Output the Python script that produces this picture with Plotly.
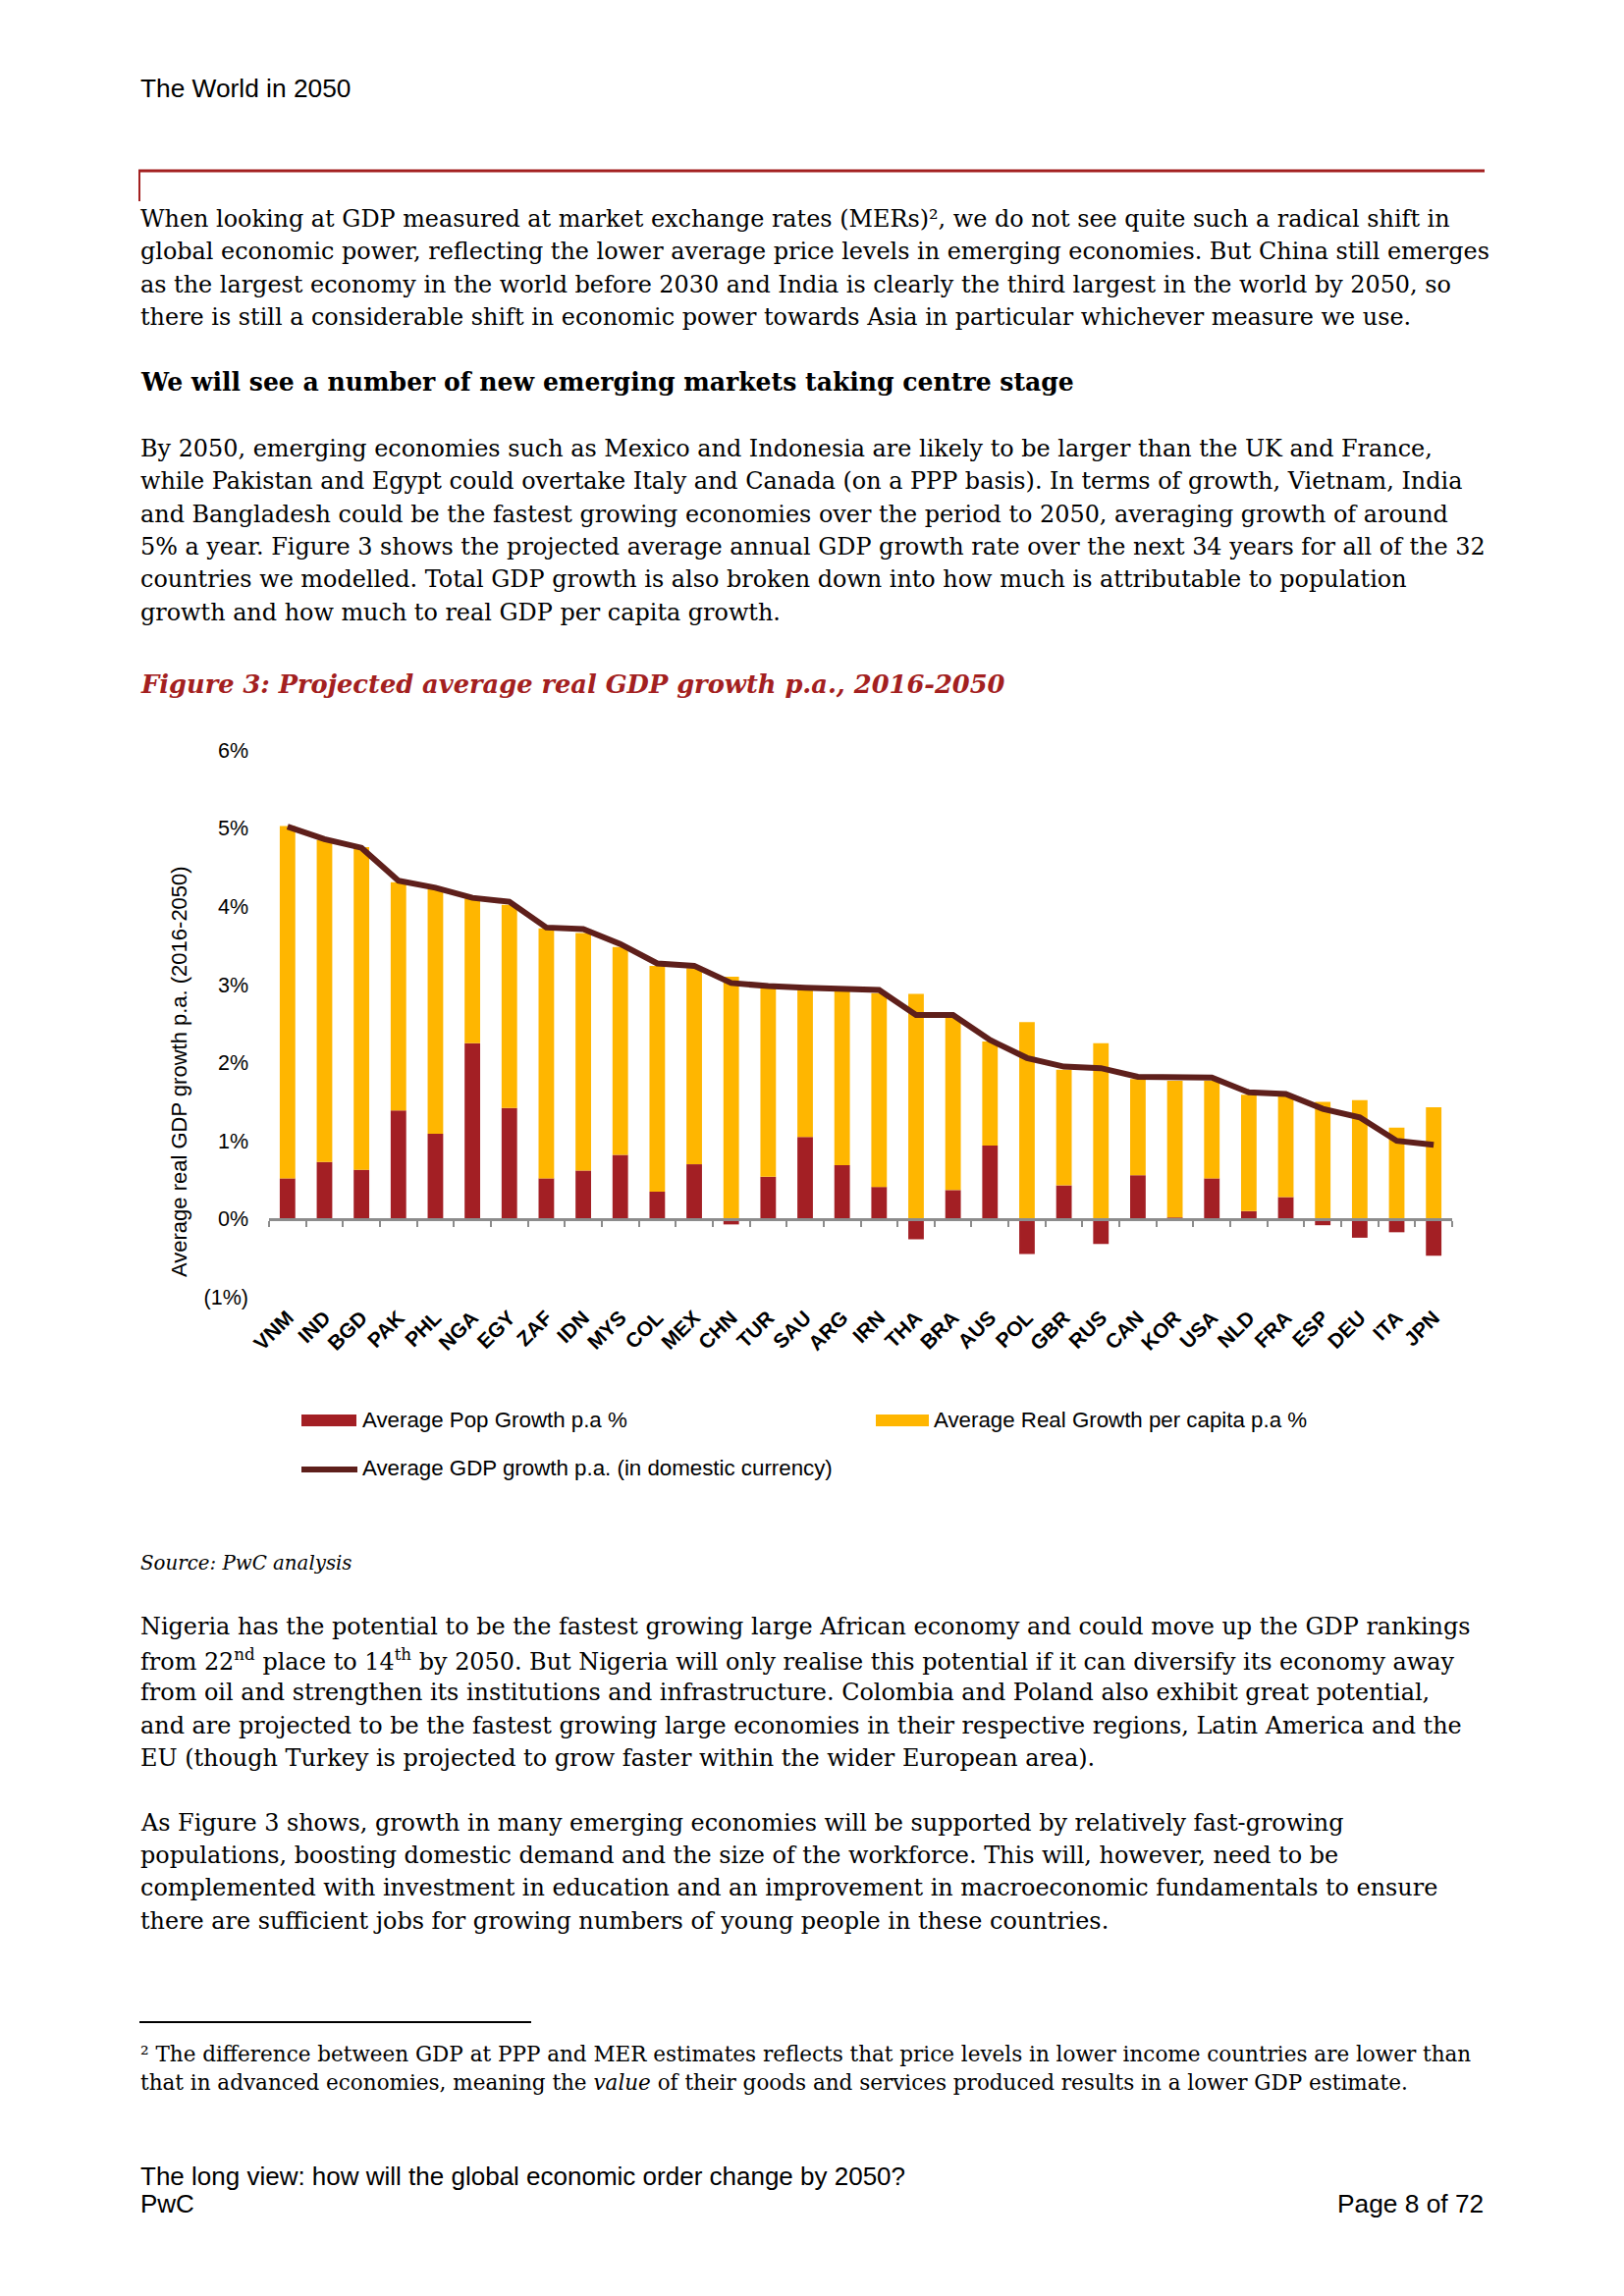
import plotly.graph_objects as go

W, H = 1654, 2339

countries = ["VNM", "IND", "BGD", "PAK", "PHL", "NGA", "EGY", "ZAF", "IDN", "MYS", "COL", "MEX",
             "CHN", "TUR", "SAU", "ARG", "IRN", "THA", "BRA", "AUS", "POL", "GBR", "RUS", "CAN",
             "KOR", "USA", "NLD", "FRA", "ESP", "DEU", "ITA", "JPN"]
pop_growth = [0.52, 0.73, 0.63, 1.39, 1.09, 2.25, 1.42, 0.52, 0.62, 0.82, 0.35, 0.70,
              -0.07, 0.54, 1.05, 0.69, 0.41, -0.26, 0.37, 0.94, -0.45, 0.43, -0.32, 0.56,
              0.02, 0.52, 0.10, 0.28, -0.08, -0.24, -0.17, -0.47]
per_capita_growth = [4.51, 4.12, 4.13, 2.92, 3.13, 1.85, 2.60, 3.20, 3.04, 2.66, 2.89, 2.51,
                     3.10, 2.42, 1.88, 2.23, 2.48, 2.88, 2.21, 1.33, 2.52, 1.48, 2.25, 1.23,
                     1.75, 1.25, 1.49, 1.29, 1.50, 1.52, 1.17, 1.43]
gdp_growth = [5.02, 4.86, 4.75, 4.33, 4.24, 4.11, 4.06, 3.73, 3.71, 3.52, 3.27, 3.24,
              3.02, 2.98, 2.96, 2.95, 2.93, 2.61, 2.61, 2.29, 2.06, 1.95, 1.93, 1.82,
              1.81, 1.81, 1.62, 1.60, 1.41, 1.30, 1.00, 0.95]
y_tick_vals = [-1, 0, 1, 2, 3, 4, 5, 6]
y_tick_text = ["(1%)", "0%", "1%", "2%", "3%", "4%", "5%", "6%"]

RED = "#A31F24"
YELLOW = "#FFB600"
BROWN = "#5E1F1B"
TITLE_RED = "#A32020"
SANS = "Liberation Sans, Arial, sans-serif"
SERIF = "DejaVu Serif, Georgia, serif"


def px(x):
    return x / W


def py(y):
    return 1 - y / H


fig = go.Figure()
fig.add_trace(go.Bar(x=countries, y=pop_growth, name="Average Pop Growth p.a %",
                     marker=dict(color=RED, line=dict(width=0)), width=0.42))
fig.add_trace(go.Bar(x=countries, y=per_capita_growth, name="Average Real Growth per capita p.a %",
                     marker=dict(color=YELLOW, line=dict(width=0)), width=0.42))
fig.add_trace(go.Scatter(x=countries, y=gdp_growth, mode="lines",
                         name="Average GDP growth p.a. (in domestic currency)",
                         line=dict(color=BROWN, width=6)))

plot_top, plot_bottom = 764.2, 1321.4
zero_y = 1241.8

fig.update_layout(
    width=W, height=H,
    margin=dict(l=0, r=0, t=0, b=0, pad=0),
    paper_bgcolor="white", plot_bgcolor="white",
    barmode="relative",
    showlegend=False,
    xaxis=dict(domain=[px(274), px(1479)], type="category", categoryorder="array",
               categoryarray=countries, range=[-0.5, 31.5],
               anchor="free", position=py(zero_y), automargin=False,
               showline=True, linecolor="#8C8C8C", linewidth=3,
               ticks="outside", ticklen=6, tickwidth=2, tickcolor="#8C8C8C",
               tickson="boundaries", tickangle=-45, showgrid=False,
               tickfont=dict(family=SANS, size=21, color="black", weight="bold"),
               ticklabelstandoff=78),
    yaxis=dict(domain=[py(plot_bottom), py(plot_top)], range=[-1, 6], automargin=False,
               tickvals=y_tick_vals, ticktext=y_tick_text,
               showgrid=False, zeroline=False, showline=False, ticks="",
               tickfont=dict(family=SANS, size=21.5, color="black"),
               ticklabelstandoff=20),
)

ann = []


def text(x, y, s, size, family=SERIF, color="black", anchor="left", weight="normal", style="normal"):
    ann.append(dict(x=px(x), y=py(y), xref="paper", yref="paper", text=s, showarrow=False,
                    xanchor=anchor, yanchor="middle", align=anchor, borderpad=0,
                    font=dict(family=family, size=size, color=color, weight=weight, style=style)))


# header
text(142, 90, "The World in 2050", 26.3, family=SANS)

BODY = 23.9
p1 = [
    "When looking at GDP measured at market exchange rates (MERs)², we do not see quite such a radical shift in",
    "global economic power, reflecting the lower average price levels in emerging economies. But China still emerges",
    "as the largest economy in the world before 2030 and India is clearly the third largest in the world by 2050, so",
    "there is still a considerable shift in economic power towards Asia in particular whichever measure we use.",
]
for i, s in enumerate(p1):
    text(142, 223 + i * 33.4, s, BODY)

text(142, 389, "We will see a number of new emerging markets taking centre stage", 25.1, weight="bold")

p2 = [
    "By 2050, emerging economies such as Mexico and Indonesia are likely to be larger than the UK and France,",
    "while Pakistan and Egypt could overtake Italy and Canada (on a PPP basis). In terms of growth, Vietnam, India",
    "and Bangladesh could be the fastest growing economies over the period to 2050, averaging growth of around",
    "5% a year. Figure 3 shows the projected average annual GDP growth rate over the next 34 years for all of the 32",
    "countries we modelled. Total GDP growth is also broken down into how much is attributable to population",
    "growth and how much to real GDP per capita growth.",
]
for i, s in enumerate(p2):
    text(142, 457 + i * 33.3, s, BODY)

text(142, 697, "Figure 3: Projected average real GDP growth p.a., 2016-2050", 25.7, color=TITLE_RED,
     weight="bold", style="italic")

# y axis title
ann.append(dict(x=px(182), y=py(1092), xref="paper", yref="paper",
                text="Average real GDP growth p.a. (2016-2050)", showarrow=False, textangle=-90,
                xanchor="center", yanchor="middle",
                font=dict(family=SANS, size=22, color="black")))

# legend
text(368, 1446, "Average Pop Growth p.a %", 22.3, family=SANS)
text(950, 1446, "Average Real Growth per capita p.a %", 22.3, family=SANS)
text(368, 1495, "Average GDP growth p.a. (in domestic currency)", 22.3, family=SANS)

text(142, 1592, "Source: PwC analysis", 19.8, style="italic")

p3 = [
    "Nigeria has the potential to be the fastest growing large African economy and could move up the GDP rankings",
    "from 22<sup>nd</sup> place to 14<sup>th</sup> by 2050. But Nigeria will only realise this potential if it can diversify its economy away",
    "from oil and strengthen its institutions and infrastructure. Colombia and Poland also exhibit great potential,",
    "and are projected to be the fastest growing large economies in their respective regions, Latin America and the",
    "EU (though Turkey is projected to grow faster within the wider European area).",
]
for i, s in enumerate(p3):
    text(142, 1657 + i * 33.5, s, BODY)

p4 = [
    "As Figure 3 shows, growth in many emerging economies will be supported by relatively fast-growing",
    "populations, boosting domestic demand and the size of the workforce. This will, however, need to be",
    "complemented with investment in education and an improvement in macroeconomic fundamentals to ensure",
    "there are sufficient jobs for growing numbers of young people in these countries.",
]
for i, s in enumerate(p4):
    text(142, 1857 + i * 33.2, s, BODY)

fn = [
    "² The difference between GDP at PPP and MER estimates reflects that price levels in lower income countries are lower than",
    "that in advanced economies, meaning the <i>value</i> of their goods and services produced results in a lower GDP estimate.",
]
for i, s in enumerate(fn):
    text(142, 2092 + i * 29, s, 21.5)

text(142, 2217, "The long view: how will the global economic order change by 2050?", 26, family=SANS)
text(142, 2245, "PwC", 26, family=SANS)
text(1512, 2245, "Page 8 of 72", 26.3, family=SANS, anchor="right")

fig.update_layout(annotations=ann)

shapes = [
    dict(type="line", xref="paper", yref="paper", x0=px(141), x1=px(1512), y0=py(174), y1=py(174),
         line=dict(color=TITLE_RED, width=3)),
    dict(type="line", xref="paper", yref="paper", x0=px(142), x1=px(142), y0=py(174), y1=py(205),
         line=dict(color=TITLE_RED, width=2)),
    dict(type="line", xref="paper", yref="paper", x0=px(142), x1=px(541), y0=py(2060), y1=py(2060),
         line=dict(color="black", width=2)),
    dict(type="rect", xref="paper", yref="paper", x0=px(307), x1=px(363), y0=py(1453), y1=py(1441),
         fillcolor=RED, line=dict(width=0)),
    dict(type="rect", xref="paper", yref="paper", x0=px(892), x1=px(946), y0=py(1453), y1=py(1441),
         fillcolor=YELLOW, line=dict(width=0)),
    dict(type="line", xref="paper", yref="paper", x0=px(307), x1=px(364), y0=py(1497), y1=py(1497),
         line=dict(color=BROWN, width=6)),
]
fig.update_layout(shapes=shapes)

fig.write_html("out.html", config={"displayModeBar": False},
               post_script="document.body.style.margin='0';document.body.style.overflow='hidden';")
